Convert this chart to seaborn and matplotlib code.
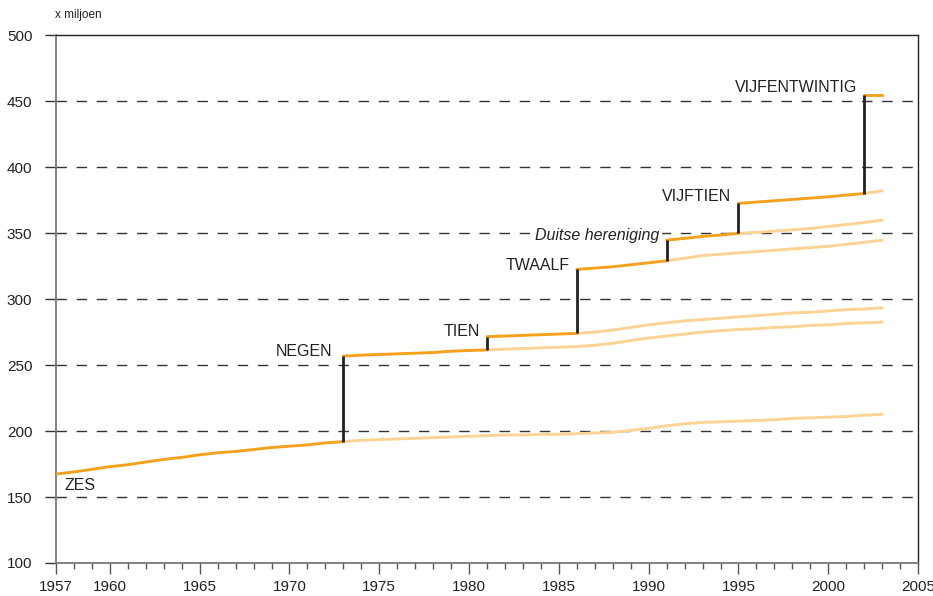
import matplotlib
matplotlib.use("Agg")
import matplotlib.pyplot as plt
import seaborn as sns
import pandas as pd
from matplotlib.ticker import MultipleLocator

# population (x miljoen) per group of member states
years_6 = list(range(1957, 2004))
pop_6 = [167.4, 169, 171, 173, 174.5, 176.5, 178.5, 180, 182, 183.5, 184.5, 186, 187.5, 188.5,
         189.5, 191, 192, 193, 193.5, 194, 194.5, 195, 195.5, 196, 196.5, 197, 197, 197.5, 197.5,
         198, 198.5, 199, 200.5, 202, 204, 205.5, 206.5, 207, 207.5, 208, 208.5, 209.5, 210,
         210.5, 211, 212, 212.6]
years_9 = list(range(1973, 2004))
pop_9 = [256.8, 257.5, 258, 258.5, 259, 259.5, 260.5, 261, 261.5, 262, 262.5, 263, 263.5, 264,
         265, 266.5, 268.5, 270.5, 272, 273.5, 275, 276, 277, 277.5, 278.5, 279, 280, 280.5,
         281.5, 282, 282.5]
years_10 = list(range(1981, 2004))
pop_10 = [271.5, 272, 272.5, 273, 273.5, 274, 275, 276.5, 278.5, 280.5, 282, 283.5, 284.5,
          285.5, 286.5, 287.5, 288.5, 289.5, 290, 291, 292, 292.5, 293.4]
years_12 = list(range(1986, 2004))
pop_12 = [322.5, 323.5, 324.5, 326, 327.5, 329, 331, 333, 334, 335, 336, 337, 338, 339, 340,
          341.5, 343, 344.7]
years_12d = list(range(1991, 2004))
pop_12d = [344.7, 346, 347.5, 348.5, 349.8, 350.5, 351.5, 352.5, 353.5, 355, 356.5, 358, 359.8]
years_15 = list(range(1995, 2004))
pop_15 = [372.5, 373.5, 374.5, 375.5, 376.5, 377.5, 378.8, 380, 382]
years_25 = [2002, 2003]
pop_25 = [455, 455]

# year in which each group was replaced by the next enlargement
group_names = ["ZES", "NEGEN", "TIEN", "TWAALF", "Duitse hereniging", "VIJFTIEN", "VIJFENTWINTIG"]
group_years = [years_6, years_9, years_10, years_12, years_12d, years_15, years_25]
group_pops = [pop_6, pop_9, pop_10, pop_12, pop_12d, pop_15, pop_25]
switch_years = [1973, 1981, 1986, 1991, 1995, 2002, 2003]

ORANGE = "#F5A11C"
LIGHT = "#FDD394"
DARK = "#222222"

sns.set_style("ticks")
plt.rcParams['font.family'] = ['Liberation Sans', 'DejaVu Sans']

fig = plt.figure(figsize=(9.33, 5.96), dpi=100)
ax = fig.add_axes([0.060, 0.0554, 0.924, 0.8856])

for y in range(150, 500, 50):
    ax.axhline(y, color="#333333", lw=1, ls=(0, (7.5, 7)), zorder=1)

for i, (name, yrs, pops, sw) in enumerate(zip(group_names, group_years, group_pops, switch_years)):
    df = pd.DataFrame({"jaar": yrs, "pop": pops})
    light = df[df["jaar"] >= sw]
    dark = df[df["jaar"] <= sw]
    if len(light) > 1:
        sns.lineplot(data=light, x="jaar", y="pop", ax=ax, color=LIGHT, lw=2.1, zorder=2)
    sns.lineplot(data=dark, x="jaar", y="pop", ax=ax, color=ORANGE, lw=2.1, zorder=3)
    if i > 0:
        prev = pd.Series(group_pops[i - 1], index=group_years[i - 1])
        start = yrs[0]
        ax.vlines(start, prev[start], pops[0], color=DARK, lw=2, zorder=4)

# labels
lab_kw = dict(fontsize=11.5, color=DARK, va="center", zorder=5)
ax.text(1957.5, 158.5, "ZES", ha="left", **lab_kw)
ax.text(1972.4, 260, "NEGEN", ha="right", **lab_kw)
ax.text(1980.6, 275.5, "TIEN", ha="right", **lab_kw)
ax.text(1985.6, 325.5, "TWAALF", ha="right", **lab_kw)
ax.text(1990.6, 348.5, "Duitse hereniging", ha="right", style="italic",
        bbox=dict(facecolor="white", edgecolor="none", pad=1.5), **lab_kw)
ax.text(1994.6, 377.5, "VIJFTIEN", ha="right", **lab_kw)
ax.text(2001.6, 460, "VIJFENTWINTIG", ha="right", **lab_kw)

ax.set_xlim(1957, 2005)
ax.set_ylim(100, 500)
ax.set_xticks([1957, 1960, 1965, 1970, 1975, 1980, 1985, 1990, 1995, 2000, 2005])
ax.xaxis.set_minor_locator(MultipleLocator(1))
ax.set_yticks(range(100, 501, 50))
ax.set_xlabel("")
ax.set_ylabel("")

ax.tick_params(axis="x", which="major", length=8, width=1, color="#555555", labelsize=11,
               labelcolor=DARK, pad=4)
ax.tick_params(axis="x", which="minor", length=4, width=1, color="#555555")
ax.tick_params(axis="y", length=8, width=1, color="#333333", labelsize=11, labelcolor=DARK, pad=9)

for side in ["left", "bottom"]:
    ax.spines[side].set_color("#777777")
    ax.spines[side].set_linewidth(1.3)
for side in ["top", "right"]:
    ax.spines[side].set_visible(True)
    ax.spines[side].set_color(DARK)
    ax.spines[side].set_linewidth(1)

fig.text(0.059, 0.974, "x miljoen", fontsize=8.5, color=DARK, ha="left", va="center")

fig.savefig("out.png", dpi=100)
